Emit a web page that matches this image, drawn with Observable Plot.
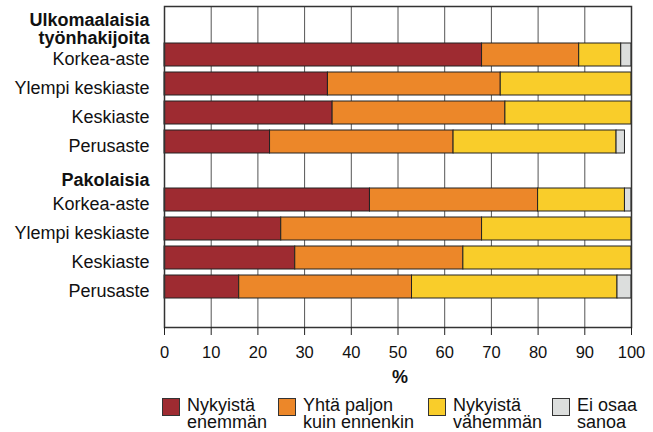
<!DOCTYPE html>
<html><head><meta charset="utf-8">
<script src="https://cdn.jsdelivr.net/npm/d3@7"></script>
<script src="https://cdn.jsdelivr.net/npm/@observablehq/plot@0.6"></script>
<style>
body{margin:0;background:#fff;font-family:"Liberation Sans",Arial,sans-serif;}
#chart svg{display:block;}
#legend{position:relative;height:36px;margin-top:5px;}
.item{position:absolute;top:0;display:flex;align-items:flex-start;}
.sw{box-sizing:border-box;width:18px;height:18px;border:1px solid #333;margin-right:7px;margin-top:0.5px;flex:none;}
.lab{font-size:18px;line-height:16.5px;white-space:pre;color:#111;}
</style></head><body><div id="chart"></div><div id="legend"></div>
<script>
const groups = ["Ulkomaalaisia\ntyönhakijoita", "Pakolaisia"];
const levels = ["Korkea-aste", "Ylempi keskiaste", "Keskiaste", "Perusaste"];
const categories = ["Nykyistä\nenemmän", "Yhtä paljon\nkuin ennenkin", "Nykyistä\nvähemmän", "Ei osaa\nsanoa"];
const colors = ["#9e2b31", "#ec8729", "#f9cd2a", "#dcdedd"];
// rows: Ulkomaalaisia (4 levels), then Pakolaisia (4 levels)
const more     = [68,   35, 36, 22.6, 44,   25, 28, 16];
const same     = [20.8, 37, 37, 39.3, 36,   43, 36, 37];
const less     = [9,    28, 27, 34.9, 18.6, 32, 36, 44];
const dontKnow = [2.2,  0,  0,  1.8,  1.4,  0,  0,  3];
const xTicks = [0, 10, 20, 30, 40, 50, 60, 70, 80, 90, 100];

const series = [more, same, less, dontKnow];
const rows = [], domain = [], labelRows = [], headRows = [];
groups.forEach((g, gi) => {
  domain.push("head|" + g);
  headRows.push({id: "head|" + g, text: g});
  levels.forEach((l, li) => {
    const i = gi * levels.length + li;
    const id = g + "|" + l;
    domain.push(id);
    labelRows.push({id, text: l});
    series.forEach((arr, ci) => {
      if (arr[i] > 0) rows.push({id, cat: categories[ci], value: arr[i]});
    });
  });
});

const font = "'Liberation Sans', Arial, sans-serif";
const plot = Plot.plot({
  width: 653, height: 392,
  marginTop: 6, marginLeft: 164, marginRight: 22, marginBottom: 65,
  style: {fontFamily: font, fontSize: "18px", color: "#111", background: "#fff"},
  x: {domain: [0, 100], axis: null},
  y: {type: "band", domain, range: [10.2, 302.2], paddingInner: 0.2, paddingOuter: 0.1, axis: null},
  color: {domain: categories, range: colors},
  marks: [
    Plot.ruleX(xTicks, {stroke: "#555", strokeWidth: 1}),
    Plot.barX(rows, {x: "value", y: "id", fill: "cat", order: categories, stroke: "#222", strokeWidth: 1}),
    Plot.frame({stroke: "#333", strokeWidth: 1.5}),
    Plot.axisX(xTicks, {tickSize: 8, tickPadding: 11, fontSize: 16.5, label: null, stroke: "#222"}),
    Plot.text(labelRows, {y: "id", text: "text", frameAnchor: "left", textAnchor: "end", dx: -15, dy: 4, fontSize: 18}),
    Plot.text(headRows.slice(0, 1), {y: "id", text: "text", frameAnchor: "left", textAnchor: "end", dx: -15, dy: 3.5, fontSize: 18, fontWeight: "bold", lineHeight: 0.97}),
    Plot.text(headRows.slice(1), {y: "id", text: "text", frameAnchor: "left", textAnchor: "end", dx: -15, dy: 9, fontSize: 18, fontWeight: "bold"}),
    Plot.text(["%"], {frameAnchor: "bottom", dy: 55, dx: 2, fontWeight: "bold", fontSize: 18})
  ]
});
document.getElementById("chart").appendChild(plot);

const legendLeft = [162, 278, 428, 552];
const legend = document.getElementById("legend");
categories.forEach((c, i) => {
  const item = document.createElement("div");
  item.className = "item";
  item.style.left = legendLeft[i] + "px";
  const sw = document.createElement("div");
  sw.className = "sw";
  sw.style.background = colors[i];
  const lab = document.createElement("div");
  lab.className = "lab";
  lab.textContent = c;
  item.appendChild(sw); item.appendChild(lab);
  legend.appendChild(item);
});
</script></body></html>
